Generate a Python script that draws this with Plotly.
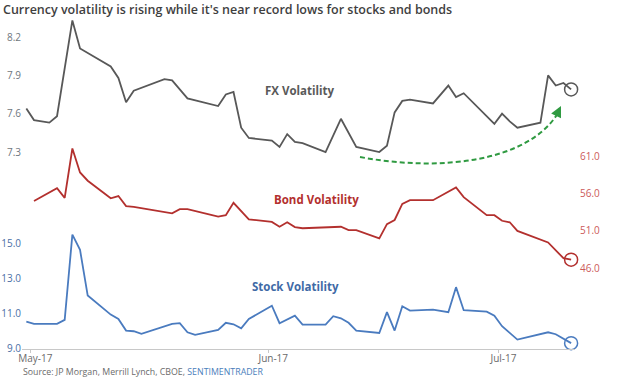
import plotly.graph_objects as go
import pandas as pd

# ---------------- data ----------------
fx_dates = ["2017-04-30", "2017-05-01", "2017-05-03", "2017-05-04", "2017-05-06", "2017-05-07",
            "2017-05-11", "2017-05-12", "2017-05-13", "2017-05-14", "2017-05-18", "2017-05-19",
            "2017-05-21", "2017-05-25", "2017-05-26", "2017-05-27", "2017-05-28", "2017-05-29",
            "2017-06-01", "2017-06-02", "2017-06-03", "2017-06-04", "2017-06-05", "2017-06-08",
            "2017-06-10", "2017-06-12", "2017-06-15", "2017-06-16", "2017-06-17", "2017-06-18",
            "2017-06-19", "2017-06-22", "2017-06-24", "2017-06-25", "2017-06-26", "2017-06-30",
            "2017-07-01", "2017-07-02", "2017-07-03", "2017-07-06", "2017-07-07", "2017-07-08",
            "2017-07-09", "2017-07-10"]
fx_values = [7.64, 7.55, 7.53, 7.58, 8.33, 8.11,
             7.97, 7.88, 7.69, 7.78, 7.87, 7.86,
             7.72, 7.66, 7.75, 7.77, 7.49, 7.41,
             7.39, 7.34, 7.44, 7.38, 7.37, 7.30,
             7.56, 7.34, 7.30, 7.35, 7.61, 7.70,
             7.71, 7.68, 7.82, 7.73, 7.76, 7.52,
             7.60, 7.54, 7.49, 7.53, 7.90, 7.82,
             7.84, 7.79]

bond_dates = ["2017-05-01", "2017-05-04", "2017-05-05", "2017-05-06", "2017-05-07", "2017-05-08",
              "2017-05-11", "2017-05-12", "2017-05-13", "2017-05-14", "2017-05-19", "2017-05-20",
              "2017-05-21", "2017-05-25", "2017-05-26", "2017-05-27", "2017-05-29", "2017-06-01",
              "2017-06-02", "2017-06-03", "2017-06-04", "2017-06-05", "2017-06-10", "2017-06-11",
              "2017-06-12", "2017-06-15", "2017-06-16", "2017-06-17", "2017-06-18", "2017-06-19",
              "2017-06-22", "2017-06-25", "2017-06-26", "2017-06-29", "2017-06-30", "2017-07-01",
              "2017-07-02", "2017-07-03", "2017-07-07", "2017-07-09", "2017-07-10"]
bond_values = [55.0, 56.7, 55.4, 62.0, 58.8, 57.7,
               55.35, 55.65, 54.3, 54.2, 53.35, 53.9,
               53.9, 52.9, 53.1, 54.75, 52.55, 52.2,
               51.55, 52.15, 51.5, 51.35, 51.55, 51.1,
               51.1, 50.0, 51.9, 52.45, 54.6, 55.1,
               55.1, 56.8, 55.5, 53.1, 53.1, 52.35,
               52.15, 51.0, 49.45, 47.35, 47.15]

stock_dates = ["2017-04-30", "2017-05-01", "2017-05-04", "2017-05-05", "2017-05-06", "2017-05-07",
               "2017-05-08", "2017-05-11", "2017-05-12", "2017-05-13", "2017-05-14", "2017-05-15",
               "2017-05-19", "2017-05-20", "2017-05-21", "2017-05-22", "2017-05-25", "2017-05-26",
               "2017-05-27", "2017-05-28", "2017-05-29", "2017-06-01", "2017-06-02", "2017-06-04",
               "2017-06-05", "2017-06-08", "2017-06-09", "2017-06-10", "2017-06-11", "2017-06-12",
               "2017-06-15", "2017-06-16", "2017-06-17", "2017-06-18", "2017-06-19", "2017-06-22",
               "2017-06-24", "2017-06-25", "2017-06-26", "2017-06-29", "2017-06-30", "2017-07-01",
               "2017-07-03", "2017-07-05", "2017-07-07", "2017-07-08", "2017-07-10"]
stock_values = [10.56, 10.43, 10.43, 10.66, 15.53, 14.66,
                12.05, 10.96, 10.71, 10.05, 10.01, 9.86,
                10.43, 10.47, 9.95, 9.80, 10.09, 10.49,
                10.41, 10.18, 10.71, 11.47, 10.47, 10.90,
                10.39, 10.39, 10.87, 10.75, 10.49, 10.05,
                9.91, 11.10, 10.05, 11.44, 11.19, 11.25,
                11.10, 12.53, 11.21, 11.13, 10.90, 10.30,
                9.53, 9.76, 9.95, 9.84, 9.33]

fx_ticks = [7.3, 7.6, 7.9, 8.2]
stock_ticks = [9.0, 11.0, 13.0, 15.0]
bond_ticks = [46.0, 51.0, 56.0, 61.0]
month_starts = ["2017-05-01", "2017-06-01", "2017-07-01"]
month_labels = ["May-17", "Jun-17", "Jul-17"]

title_text = "Currency volatility is rising while it's near record lows for stocks and bonds"
source_text = ("Source: JP Morgan, Merrill Lynch, CBOE, "
               "<span style='color:#4a7ebb'>SENTIMENTRADER</span>")

# ---------------- styling ----------------
FX_C = "#585858"
BOND_C = "#b3302e"
STOCK_C = "#4a7bbf"
GREEN = "#2f9a41"
FONT = "Open Sans"

W, H = 620, 380
L, R, T, B = 22, 575, 14, 349


def px(x):
    return (x - L) / (R - L)


def py(y):
    return (B - y) / (B - T)


PXDAY = 7.673
X0PIX = 34.0  # pixel where the May 1 data point sits
base = pd.Timestamp("2017-05-01")
x_left = base + pd.Timedelta(days=(L - X0PIX) / PXDAY)
x_right = base + pd.Timedelta(days=(R - X0PIX) / PXDAY)
tick_pos = [pd.Timestamp(m) - pd.Timedelta(hours=11.3) for m in month_starts]

fig = go.Figure()

fig.add_trace(go.Scatter(x=stock_dates, y=stock_values, mode="lines",
                         line=dict(color=STOCK_C, width=1.8), yaxis="y", showlegend=False))
fig.add_trace(go.Scatter(x=fx_dates, y=fx_values, mode="lines",
                         line=dict(color=FX_C, width=1.8), yaxis="y2", showlegend=False))
fig.add_trace(go.Scatter(x=bond_dates, y=bond_values, mode="lines",
                         line=dict(color=BOND_C, width=1.8), yaxis="y3", showlegend=False))

for d, v, c, ya in [(stock_dates, stock_values, STOCK_C, "y"),
                    (fx_dates, fx_values, FX_C, "y2"),
                    (bond_dates, bond_values, BOND_C, "y3")]:
    fig.add_trace(go.Scatter(x=[d[-1]], y=[v[-1]], mode="markers", yaxis=ya,
                             marker=dict(symbol="circle-open", size=13, color=c,
                                         line=dict(width=1.5, color=c)),
                             cliponaxis=False, showlegend=False))

stock_range = [8.995, 9 + (B - T) / 17.5]
fx_range = [8.2 - (B - 37) / 127.8, 8.2 + (37 - T) / 127.8]
bond_range = [61 - (B - 156) / 7.487, 61 + (156 - T) / 7.487]

fig.update_layout(
    width=W, height=H,
    margin=dict(l=L, r=W - R, t=T, b=H - B, pad=0),
    paper_bgcolor="white", plot_bgcolor="white",
    title=dict(text=title_text, x=3 / W, xanchor="left", y=1 - 10 / H, yanchor="middle",
               font=dict(family=FONT, size=12.5, color="#3f3f3f", weight=600)),
    xaxis=dict(type="date", range=[x_left, x_right], tickvals=tick_pos, ticktext=month_labels,
               showgrid=False, zeroline=False, showline=True, linecolor="#c8c8c8", linewidth=1,
               ticks="outside", ticklen=3, tickcolor="#c8c8c8", ticklabelshift=5,
               ticklabelstandoff=-3, automargin=False,
               tickfont=dict(family=FONT, size=10, color="#6b6b6b")),
    yaxis=dict(range=stock_range, tickvals=stock_ticks, tickformat=".1f", showgrid=False,
               zeroline=False, showline=False, ticks="", automargin=False,
               tickfont=dict(family=FONT, size=10, color="#4a6fa5")),
    yaxis2=dict(range=fx_range, tickvals=fx_ticks, tickformat=".1f", overlaying="y", side="left",
                anchor="x", showgrid=False, zeroline=False, showline=False, ticks="",
                automargin=False,
                tickfont=dict(family=FONT, size=10, color="#6f7780")),
    yaxis3=dict(range=bond_range, tickvals=bond_ticks, tickformat=".1f", overlaying="y",
                side="right", anchor="x", showgrid=False, zeroline=False, showline=False,
                ticks="", ticklabelstandoff=4, automargin=False,
                tickfont=dict(family=FONT, size=10, color="#cc5a5a")),
)

for txt, cx, cy, col in [("FX Volatility", 299.5, 90, "#595959"),
                         ("Bond Volatility", 316.5, 199, BOND_C),
                         ("Stock Volatility", 295, 286, "#3f6aa6")]:
    fig.add_annotation(text=txt, x=px(cx), y=py(cy), xref="paper", yref="paper",
                       showarrow=False, xanchor="center", yanchor="middle",
                       font=dict(family=FONT, size=11.5, color=col, weight="bold"))

fig.add_annotation(text=source_text, x=px(21), y=py(372), xref="paper", yref="paper",
                   showarrow=False, xanchor="left", yanchor="middle",
                   font=dict(family=FONT, size=8.8, color="#6b6b6b"))

P0, P1, P2, P3 = (360, 157), (440, 172), (528, 162), (558, 113)
path = "M {},{} C {},{} {},{} {},{}".format(px(P0[0]), py(P0[1]), px(P1[0]), py(P1[1]),
                                            px(P2[0]), py(P2[1]), px(P3[0]), py(P3[1]))
fig.add_shape(type="path", path=path, xref="paper", yref="paper",
              line=dict(color=GREEN, width=2, dash="5px,3px"))
fig.add_annotation(x=px(561), y=py(106), xref="paper", yref="paper", text="",
                   showarrow=True, ax=-4, ay=8, arrowhead=2, arrowsize=1.1, arrowwidth=2,
                   arrowcolor=GREEN)

fig.write_html("out.html", config={"displayModeBar": False},
               post_script="document.body.style.margin='0';")
